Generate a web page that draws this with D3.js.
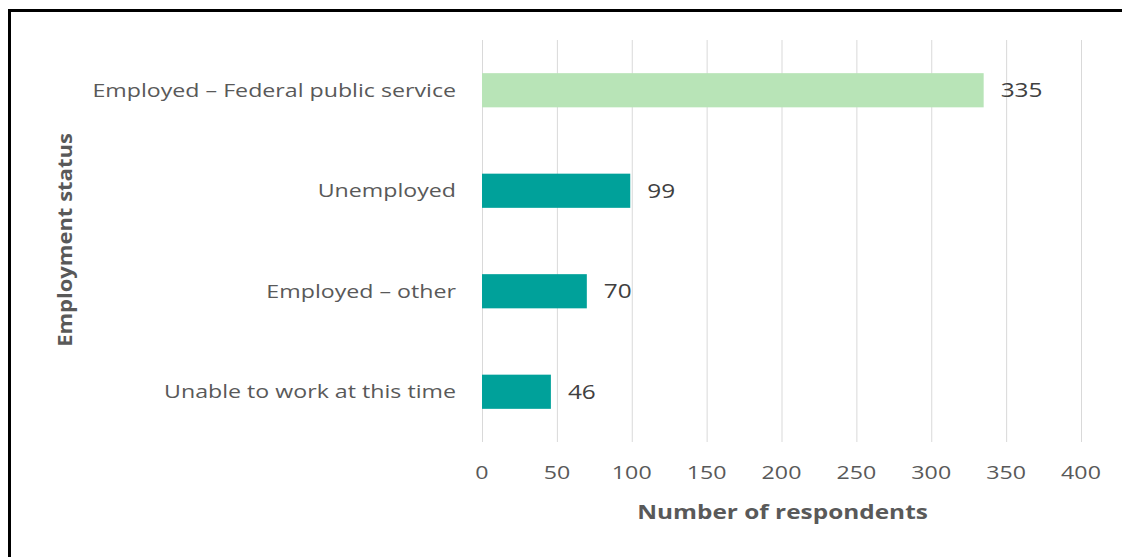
<!DOCTYPE html>
<html>
<head>
<meta charset="utf-8">
<script src="https://cdn.jsdelivr.net/npm/d3@7"></script>
<style>
  html, body { margin: 0; padding: 0; background: #fff; }
  svg { display: block; }
  text { font-family: "Open Sans", "Noto Sans", sans-serif; }
</style>
</head>
<body>
<svg id="chart" width="1122" height="557"></svg>
<script>
// Employment status of respondents
const categories = [
  "Employed – Federal public service",
  "Unemployed",
  "Employed – other",
  "Unable to work at this time"
];
const respondents = [335, 99, 70, 46];
const barColors = ["#b8e4b7", "#00a19a", "#00a19a", "#00a19a"];
const xTicks = [0, 50, 100, 150, 200, 250, 300, 350, 400];
const xTitle = "Number of respondents";
const yTitle = "Employment status";

const svg = d3.select("#chart");
const W = 1122, H = 557;
const STRETCH = 1.22; // horizontal stretch of the lettering

// outer frame
svg.append("rect")
  .attr("x", 9.5).attr("y", 10.5)
  .attr("width", W + 20).attr("height", H + 20)
  .attr("fill", "none").attr("stroke", "#000").attr("stroke-width", 3);

const plot = { left: 482, right: 1081, top: 40, bottom: 442 };

const x = d3.scaleLinear().domain([0, 400]).range([plot.left, plot.right]);
const y = d3.scaleBand().domain(categories)
  .range([plot.top, plot.bottom]).paddingInner(0.66).paddingOuter(0.33);

// vertical gridlines
svg.append("g").selectAll("line").data(xTicks).join("line")
  .attr("x1", d => x(d) + 0.5).attr("x2", d => x(d) + 0.5)
  .attr("y1", plot.top).attr("y2", plot.bottom)
  .attr("stroke", "#d9d9d9").attr("stroke-width", 1);

// bars
svg.append("g").selectAll("rect").data(categories).join("rect")
  .attr("x", x(0))
  .attr("y", d => y(d))
  .attr("width", (d, i) => x(respondents[i]) - x(0))
  .attr("height", y.bandwidth())
  .attr("fill", (d, i) => barColors[i]);

// value labels
svg.append("g").selectAll("text").data(categories).join("text")
  .attr("transform", (d, i) =>
    `translate(${x(respondents[i]) + 17},${y(d) + y.bandwidth() / 2}) scale(${STRETCH},1)`)
  .attr("dy", "0.35em")
  .attr("font-size", 20)
  .attr("fill", "#404040")
  .text((d, i) => respondents[i]);

// category labels
svg.append("g").selectAll("text").data(categories).join("text")
  .attr("transform", d =>
    `translate(${plot.left - 26},${y(d) + y.bandwidth() / 2}) scale(${STRETCH},1)`)
  .attr("dy", "0.35em")
  .attr("text-anchor", "end")
  .attr("font-size", 19)
  .attr("fill", "#595959")
  .text(d => d);

// x tick labels
svg.append("g").selectAll("text").data(xTicks).join("text")
  .attr("transform", d => `translate(${x(d)},472) scale(${STRETCH},1)`)
  .attr("dy", "0.35em")
  .attr("text-anchor", "middle")
  .attr("font-size", 19)
  .attr("fill", "#595959")
  .text(d => d);

// axis titles
svg.append("text")
  .attr("transform", `translate(${(plot.left + plot.right) / 2 + 1},512) scale(${STRETCH},1)`)
  .attr("dy", "0.35em")
  .attr("text-anchor", "middle")
  .attr("font-size", 20)
  .attr("font-weight", "bold")
  .attr("fill", "#595959")
  .text(xTitle);

svg.append("text")
  .attr("transform", "translate(65,240) rotate(-90) scale(1.1,1)")
  .attr("dy", "0.35em")
  .attr("text-anchor", "middle")
  .attr("font-size", 20)
  .attr("font-weight", "bold")
  .attr("fill", "#595959")
  .text(yTitle);
</script>
</body>
</html>
